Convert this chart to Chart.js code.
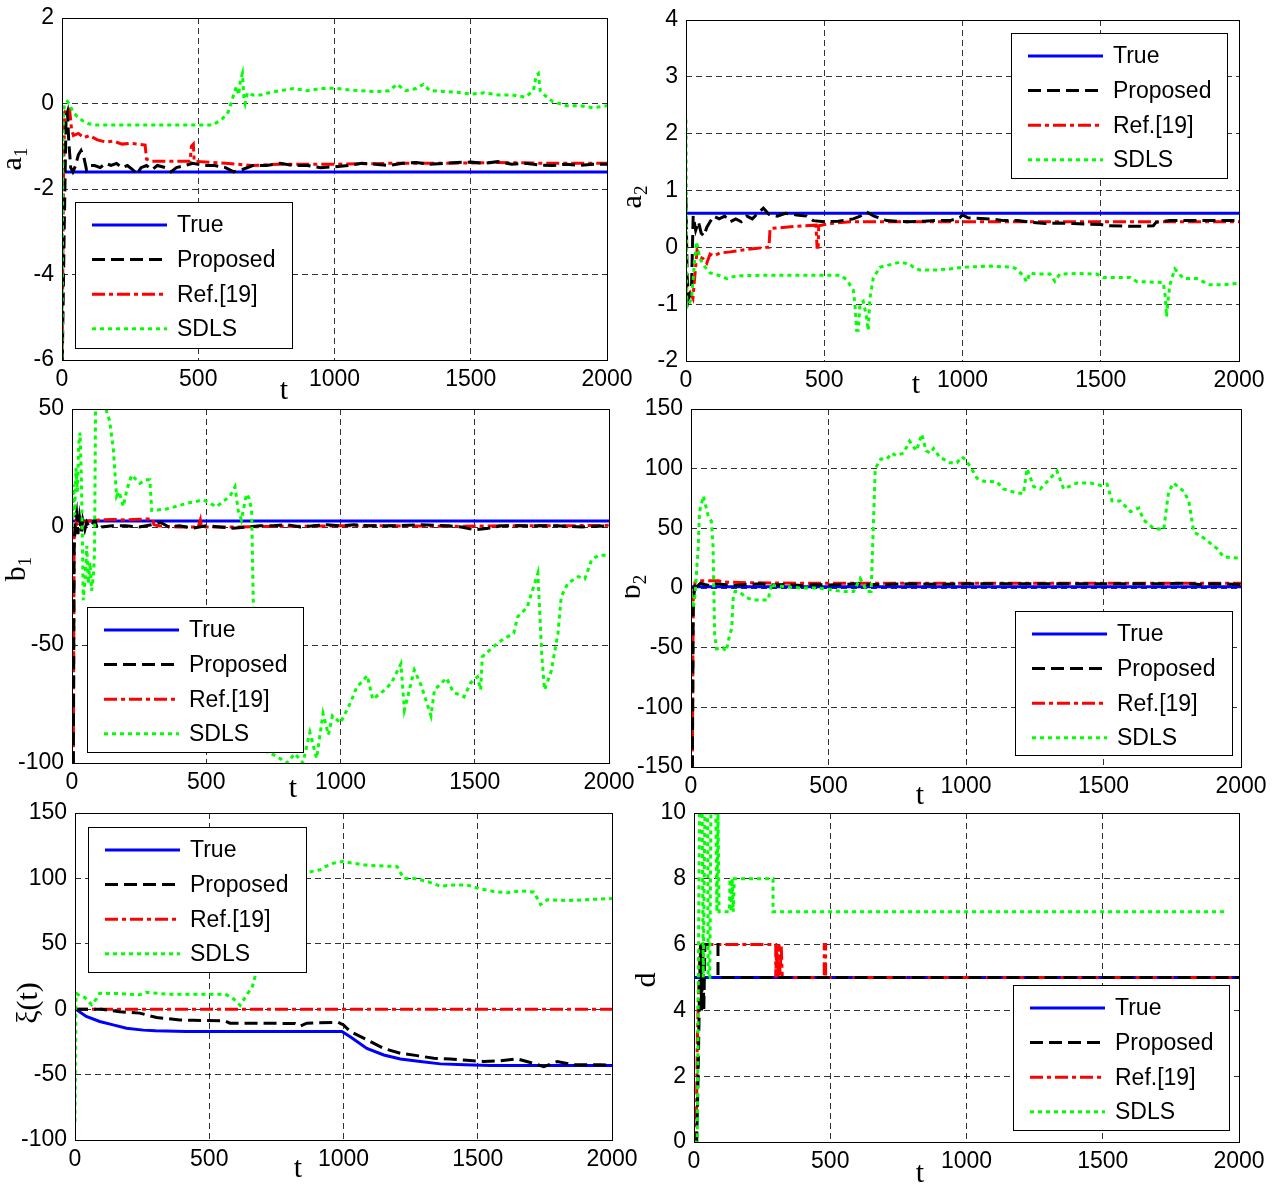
<!DOCTYPE html>
<html>
<head>
<meta charset="utf-8">
<script src="https://cdn.jsdelivr.net/npm/chart.js@4.4.1/dist/chart.umd.min.js"></script>
<style>
  html, body { margin: 0; padding: 0; background: #fff; }
  #wrap { position: relative; width: 1283px; height: 1187px; overflow: hidden; background: #fff; }
  .cv { position: absolute; }
</style>
</head>
<body>
<div id="wrap"></div>
<script>
// ---------- series names (legend order) ----------
const seriesNames = ['True', 'Proposed', 'Ref.[19]', 'SDLS'];

// ---------- a1 ----------
const a1True = [[0,-1.6],[2000,-1.6]];
const a1Proposed = [[0,-6.5],[8,-3],[15,-0.3],[20,-0.2],[25,-0.9],[32,-1.5],[40,-1.6],[50,-1.45],[60,-1.2],[70,-1.1],[80,-1.25],[90,-1.55],[100,-1.45],[120,-1.45],[140,-1.5],[160,-1.4],[180,-1.45],[200,-1.4],[220,-1.5],[240,-1.45],[260,-1.55],[275,-1.65],[290,-1.5],[310,-1.45],[330,-1.55],[350,-1.45],[380,-1.5],[400,-1.6],[420,-1.5],[450,-1.45],[480,-1.4],[520,-1.45],[560,-1.45],[600,-1.5],[630,-1.6],[660,-1.55],[700,-1.45],[750,-1.45],[800,-1.4],[850,-1.45],[900,-1.45],[950,-1.5],[1000,-1.48],[1050,-1.45],[1100,-1.4],[1150,-1.42],[1200,-1.45],[1250,-1.4],[1300,-1.38],[1350,-1.42],[1400,-1.4],[1450,-1.38],[1500,-1.37],[1550,-1.4],[1600,-1.36],[1650,-1.42],[1700,-1.4],[1750,-1.44],[1800,-1.45],[1850,-1.42],[1900,-1.45],[1950,-1.42],[2000,-1.42]];
const a1Ref19 = [[0,-6.5],[5,-2],[10,-0.2],[20,-0.1],[28,-0.15],[35,-0.6],[42,-0.75],[60,-0.7],[80,-0.8],[100,-0.75],[130,-0.85],[160,-0.9],[190,-0.88],[220,-0.95],[250,-0.93],[280,-0.95],[305,-0.97],[310,-1.3],[330,-1.35],[400,-1.35],[470,-1.35],[475,-1.0],[482,-0.95],[485,-1.35],[550,-1.38],[600,-1.4],[700,-1.45],[800,-1.42],[1000,-1.42],[1200,-1.4],[1400,-1.4],[1600,-1.38],[1800,-1.4],[2000,-1.4]];
const a1Sdls = [[0,-6.5],[3,-1],[6,-0.2],[10,0.0],[20,0.05],[30,-0.05],[40,-0.2],[55,-0.3],[75,-0.4],[95,-0.47],[120,-0.5],[200,-0.5],[300,-0.5],[400,-0.5],[500,-0.5],[555,-0.5],[590,-0.35],[610,-0.2],[625,0.1],[640,0.4],[648,0.2],[655,0.55],[662,0.7],[668,0.1],[672,0.0],[680,0.25],[700,0.2],[730,0.2],[760,0.25],[800,0.3],[850,0.35],[900,0.3],[950,0.35],[1000,0.36],[1050,0.32],[1100,0.3],[1150,0.28],[1200,0.3],[1230,0.45],[1260,0.3],[1300,0.35],[1326,0.45],[1350,0.3],[1400,0.28],[1450,0.26],[1500,0.22],[1550,0.25],[1600,0.2],[1650,0.2],[1700,0.15],[1730,0.3],[1740,0.65],[1748,0.7],[1755,0.3],[1770,0.2],[1800,0.05],[1850,-0.05],[1900,-0.05],[1950,-0.1],[2000,-0.05]];

// ---------- a2 ----------
const a2True = [[0,0.6],[2000,0.6]];
const a2Proposed = [[0,0.88],[4,-0.5],[10,-0.9],[20,-0.7],[26,0.55],[35,0.3],[45,0.45],[55,0.25],[65,0.2],[75,0.35],[87,0.45],[100,0.55],[120,0.5],[140,0.55],[160,0.45],[180,0.5],[200,0.45],[220,0.55],[240,0.5],[260,0.6],[280,0.69],[300,0.58],[330,0.55],[360,0.6],[400,0.57],[435,0.55],[460,0.47],[500,0.45],[550,0.46],[605,0.5],[630,0.55],[653,0.62],[680,0.55],[726,0.47],[800,0.45],[860,0.46],[900,0.47],[955,0.47],[990,0.52],[1000,0.57],[1020,0.52],[1100,0.5],[1150,0.47],[1200,0.47],[1250,0.44],[1300,0.42],[1350,0.43],[1400,0.42],[1450,0.41],[1500,0.4],[1530,0.38],[1600,0.37],[1650,0.37],[1690,0.38],[1700,0.44],[1750,0.47],[1800,0.47],[1900,0.47],[2000,0.47]];
const a2Ref19 = [[0,-0.5],[5,-0.9],[15,-0.8],[25,-0.9],[32,-0.5],[40,-0.05],[50,-0.17],[62,-0.2],[75,-0.28],[87,-0.12],[100,-0.15],[123,-0.1],[160,-0.08],[200,-0.05],[250,-0.02],[292,0.0],[300,0.0],[304,0.33],[350,0.35],[400,0.37],[470,0.39],[474,0.0],[478,0.0],[480,0.38],[520,0.42],[600,0.45],[700,0.45],[800,0.45],[1000,0.45],[1200,0.45],[1400,0.45],[1600,0.45],[1800,0.45],[2000,0.45]];
const a2Sdls = [[0,2.25],[3,-1.05],[10,-1.0],[20,-0.9],[30,-0.3],[38,0.1],[50,-0.2],[68,-0.34],[87,-0.45],[123,-0.5],[147,-0.55],[183,-0.5],[300,-0.49],[450,-0.49],[557,-0.49],[581,-0.57],[605,-0.75],[611,-1.0],[617,-1.46],[623,-1.46],[629,-1.0],[641,-0.95],[652,-1.2],[659,-1.46],[665,-0.9],[677,-0.55],[701,-0.35],[726,-0.32],[774,-0.26],[810,-0.3],[822,-0.35],[846,-0.4],[900,-0.4],[955,-0.38],[1000,-0.35],[1100,-0.33],[1180,-0.35],[1195,-0.38],[1220,-0.5],[1232,-0.61],[1244,-0.45],[1268,-0.47],[1316,-0.47],[1334,-0.6],[1352,-0.47],[1420,-0.46],[1485,-0.47],[1509,-0.53],[1606,-0.53],[1630,-0.6],[1726,-0.62],[1733,-0.85],[1738,-1.22],[1744,-0.9],[1750,-0.66],[1768,-0.38],[1799,-0.55],[1847,-0.55],[1895,-0.66],[1943,-0.66],[2000,-0.63]];

// ---------- b1 ----------
const b1True = [[0,2.5],[2000,2.5]];
const b1Proposed = [[0,-100],[5,-100],[8,-10],[12,3],[17,6],[22,-3],[28,4],[35,-2],[40,3],[48,-1],[55,2],[65,0],[75,1],[85,3],[95,-1],[110,0],[150,0.5],[200,0.5],[250,0],[300,1],[330,2],[360,0],[400,0.5],[450,-0.5],[500,0.5],[550,0],[600,-0.5],[650,0],[700,0.5],[750,0.5],[800,1],[850,0],[900,0.5],[950,1],[1000,0.5],[1050,1],[1100,0.5],[1200,0.5],[1300,1],[1400,0.5],[1450,0],[1500,-1.2],[1550,-0.5],[1600,0.5],[1700,0.5],[1800,0.5],[1900,0],[2000,0.5]];
const b1Ref19 = [[0,-100],[5,-100],[8,-5],[15,2],[25,0],[40,2],[60,2.5],[100,3],[150,3.2],[200,3],[250,3.3],[300,3.4],[305,1],[320,0.5],[400,0],[470,0],[478,3],[482,0],[600,0],[800,0.3],[1000,0.5],[1200,0.5],[1400,0.3],[1600,0.5],[1800,0.5],[2000,0.7]];
const b1Sdls = [[0,0],[3,10],[5,18],[10,5],[15,25],[20,15],[25,35],[30,40],[35,20],[38,0],[42,-31],[50,-20],[55,-8],[61,-24],[67,-15],[73,-27],[80,-20],[84,-10],[88,55],[100,60],[115,58],[125,52],[129,49],[140,45],[154,33],[166,13],[175,15],[191,8.7],[204,15.7],[222,22],[253,18.5],[275,20],[290,20],[297,7],[352,7.6],[427,10],[489,11.5],[538,8.6],[588,13],[607,17],[619,7],[631,3],[650,14],[660,12],[669,7],[675,-31],[690,-60],[705,-85],[720,-95],[760,-97],[800,-100],[830,-96],[860,-100],[886,-87],[911,-98],[935,-79],[955,-88],[970,-80],[1000,-83],[1035,-75],[1060,-68],[1100,-63],[1120,-73],[1165,-69],[1190,-66],[1225,-58],[1238,-77.5],[1275,-60.6],[1300,-67],[1337,-80],[1350,-69],[1395,-64],[1420,-70],[1460,-72],[1485,-66],[1510,-63.5],[1522,-69],[1528,-55],[1570,-50.7],[1600,-48],[1645,-45],[1660,-38],[1695,-34],[1735,-19.6],[1750,-55],[1760,-69],[1785,-61],[1810,-45],[1822,-29.5],[1847,-23.8],[1885,-21],[1910,-22],[1935,-14],[1960,-12],[2000,-12]];

// ---------- b2 ----------
const b2True = [[0,1],[2000,1]];
const b2Proposed = [[0,-150],[5,-150],[8,-20],[12,0],[18,5],[25,2],[35,4],[50,3],[70,2],[90,3.5],[120,3],[150,2],[200,3],[250,3.5],[300,2.5],[350,3],[400,2],[450,3],[500,2.5],[550,3],[600,3.5],[650,3],[700,3],[800,3.5],[900,3],[1000,3.5],[1100,3.5],[1200,3.5],[1300,3.5],[1400,3.5],[1500,3.5],[1600,3.5],[1700,3.5],[1800,4],[1850,3],[1900,3.5],[2000,3]];
const b2Ref19 = [[0,-150],[5,-150],[8,-10],[15,5],[20,6],[60,6],[100,6],[120,5],[200,4.5],[400,4],[800,4],[1200,4],[1600,4],[2000,4]];
const b2Sdls = [[0,-5],[8,-17],[15,-5],[22,20],[26,33],[31,64],[45,77],[50,72],[62,61],[74,56],[80,36],[86,-39],[93,-51],[116,-50],[128,-53],[140,-40],[148,-34],[154,-6],[160,-3],[175,-3],[185,-5],[200,-8],[227,-10],[280,-10],[294,4],[300,2],[348,1],[400,0],[457,0],[500,-1],[550,-3],[591,-3],[615,8],[640,-3],[655,-3],[670,100],[690,108],[712,108],[730,113],[745,111],[773,113],[795,123],[820,115],[839,129],[855,115],[870,113],[882,117],[906,109],[918,108],[942,105],[967,105],[985,110],[1000,107],[1015,102],[1040,92],[1064,89.5],[1112,89],[1136,83],[1180,80],[1209,79],[1222,100],[1246,85],[1270,83],[1331,98],[1355,83],[1404,88],[1452,88],[1490,86],[1513,87],[1531,73],[1561,73],[1598,64],[1628,67],[1646,57],[1682,50],[1719,49],[1737,81],[1755,88],[1792,81],[1810,73],[1828,47],[1864,42],[1913,33],[1937,26],[2000,25]];

// ---------- xi(t) ----------
const xiTrue = [[0,0],[10,-1],[42,-5.6],[92,-9.4],[142,-12],[192,-14.5],[254,-16],[300,-16.5],[415,-17],[600,-17],[800,-17],[994,-17],[1025,-21],[1087,-30],[1150,-35],[1212,-38],[1286,-40],[1361,-41.8],[1450,-42.5],[1547,-43],[1700,-43],[2000,-43]];
const xiProposed = [[0,0],[100,0],[167,-2],[241,-3],[304,-6.4],[390,-8.2],[440,-8.5],[560,-9],[577,-10.7],[700,-10.7],[820,-11],[838,-13],[863,-10.7],[980,-10],[1000,-12],[1025,-17],[1087,-23.4],[1150,-30],[1212,-33.7],[1274,-35.5],[1336,-37.5],[1398,-38],[1460,-39],[1522,-40],[1585,-39.5],[1647,-38],[1709,-41.5],[1746,-44],[1796,-40],[1858,-42.5],[1958,-42.5],[2000,-43]];
const xiRef19 = [[0,0],[2000,0]];
const xiSdls = [[0,-86],[3,5],[5,12],[20,10],[36,9],[62,3.4],[80,8],[92,12.2],[167,12],[240,11],[266,13],[340,11.5],[450,11.5],[560,11.5],[590,8],[615,3],[640,11],[660,17],[672,26],[690,40],[720,65],[760,85],[800,96],[838,104],[875,105],[913,106.6],[932,109],[963,111.7],[1000,113],[1025,112],[1087,110],[1150,109.5],[1200,109],[1224,100],[1262,100],[1312,97.7],[1361,94],[1411,95],[1460,95],[1510,92],[1560,90],[1610,89],[1660,90.5],[1709,89.5],[1734,80],[1759,83.7],[1833,83],[1933,84],[2000,84.6]];

// ---------- d ----------
const dTrue = [[0,5],[2000,5]];
const dProposed = [[0,0],[10,0],[15,2],[20,4.5],[24,6],[28,4],[32,6],[36,4],[40,6],[88,6],[88,5],[2000,5]];
const dRef19 = [[0,0],[8,0],[12,3],[18,5],[22,6],[300,6],[300,5],[304,6],[308,5],[312,6],[316,5],[320,6],[324,5],[478,5],[478,6],[483,6],[483,5],[2000,5]];
const dSdls = [[0,0],[12,0],[16,5],[20,10],[30,10],[34,5],[40,10],[50,10],[52,5],[58,5],[62,10],[80,10],[84,7],[88,10],[92,7],[130,7],[132,8],[136,7],[140,8],[144,7],[148,8],[290,8],[290,7],[1960,7]];

// ---------- line styles per series ----------
const lineStyles = {
  'True':     { color: '#0000ff', dash: [],            order: 3 },
  'Proposed': { color: '#000000', dash: [13, 6],       order: 1 },
  'Ref.[19]': { color: '#ff0000', dash: [13, 4, 4, 4], order: 2 },
  'SDLS':     { color: '#00ff00', dash: [4, 4],        order: 0 }
};

const TICK_FONT = { family: '"Liberation Sans", Arial, sans-serif', size: 23 };
const LABEL_FONT = '"Liberation Serif", "Times New Roman", serif';

// panel layout: canvas box [left, top, width, height], plot area [left, top, right, bottom] (page px)
const panels = [
  { box: [0, 0, 645, 405],     area: [62, 18, 607, 360],    y: [-6, 2, 2],
    series: [a1True, a1Proposed, a1Ref19, a1Sdls],
    legend: [75, 202, 217, 146],  ylab: { x: 21, y: 159, main: 'a', sub: '1' }, tlab: [284, 399] },
  { box: [625, 0, 655, 405],   area: [686, 20, 1239, 361],  y: [-2, 4, 1],
    series: [a2True, a2Proposed, a2Ref19, a2Sdls],
    legend: [1011, 33, 216, 145], ylab: { x: 641, y: 197, main: 'a', sub: '2' }, tlab: [916, 393] },
  { box: [0, 395, 645, 415],   area: [72, 409, 609, 763],   y: [-100, 50, 50],
    series: [b1True, b1Proposed, b1Ref19, b1Sdls],
    legend: [87, 607, 216, 145],  ylab: { x: 25, y: 569, main: 'b', sub: '1' }, tlab: [293, 797] },
  { box: [625, 395, 655, 415], area: [691, 409, 1241, 767], y: [-150, 150, 50],
    series: [b2True, b2Proposed, b2Ref19, b2Sdls],
    legend: [1015, 611, 217, 144], ylab: { x: 640, y: 587, main: 'b', sub: '2' }, tlab: [920, 804] },
  { box: [0, 798, 645, 389],   area: [75, 813, 612, 1140],  y: [-100, 150, 50],
    series: [xiTrue, xiProposed, xiRef19, xiSdls],
    legend: [88, 827, 218, 145],  ylab: { x: 37, y: 1003, main: 'ξ(t)', sub: '' }, tlab: [298, 1177] },
  { box: [625, 798, 655, 389], area: [694, 813, 1239, 1142], y: [0, 10, 2],
    series: [dTrue, dProposed, dRef19, dSdls],
    legend: [1013, 985, 216, 145], ylab: { x: 655, y: 980, main: 'd', sub: '' }, tlab: [920, 1182] }
];

// frame, legend box and axis labels drawn on top of the plotted lines
const overlayPlugin = {
  id: 'overlay',
  afterDatasetsDraw(chart, args, opts) {
    const ctx = chart.ctx;
    const a = chart.chartArea;
    const ox = opts.ox, oy = opts.oy;
    ctx.save();
    // axes box
    ctx.strokeStyle = '#000';
    ctx.lineWidth = 1;
    ctx.setLineDash([]);
    ctx.strokeRect(Math.round(a.left) + 0.5, Math.round(a.top) + 0.5,
                   Math.round(a.right - a.left), Math.round(a.bottom - a.top));

    // legend
    const [lx, ly, lw, lh] = opts.legend;
    const bx = lx - ox, by = ly - oy;
    ctx.fillStyle = '#fff';
    ctx.fillRect(bx, by, lw, lh);
    ctx.strokeStyle = '#000';
    ctx.lineWidth = 1;
    ctx.strokeRect(bx + 0.5, by + 0.5, lw, lh);
    ctx.font = `${TICK_FONT.size}px ${TICK_FONT.family}`;
    ctx.textBaseline = 'middle';
    ctx.textAlign = 'left';
    const ds = chart.data.datasets;
    seriesNames.forEach((name, i) => {
      const d = ds.find(s => s.label === name);
      const yy = by + 23 + i * 34.6;
      ctx.beginPath();
      ctx.strokeStyle = d.borderColor;
      ctx.lineWidth = d.borderWidth;
      ctx.setLineDash(d.borderDash);
      ctx.moveTo(bx + 17, yy);
      ctx.lineTo(bx + 92, yy);
      ctx.stroke();
      ctx.setLineDash([]);
      ctx.fillStyle = '#000';
      ctx.fillText(name, bx + 102, yy + 1);
    });

    // x-axis label
    ctx.fillStyle = '#000';
    ctx.font = `30px ${LABEL_FONT}`;
    ctx.textAlign = 'center';
    ctx.textBaseline = 'alphabetic';
    ctx.fillText('t', opts.tlab[0] - ox, opts.tlab[1] - oy);

    // y-axis label (rotated, with optional subscript)
    const yl = opts.ylab;
    ctx.translate(yl.x - ox, yl.y - oy);
    ctx.rotate(-Math.PI / 2);
    ctx.font = `30px ${LABEL_FONT}`;
    const wMain = ctx.measureText(yl.main).width;
    ctx.font = `19px ${LABEL_FONT}`;
    const wSub = yl.sub ? ctx.measureText(yl.sub).width : 0;
    const start = -(wMain + wSub) / 2;
    ctx.textAlign = 'left';
    ctx.font = `30px ${LABEL_FONT}`;
    ctx.fillText(yl.main, start, 0);
    if (yl.sub) {
      ctx.font = `19px ${LABEL_FONT}`;
      ctx.fillText(yl.sub, start + wMain, 6);
    }
    ctx.restore();
  }
};

const wrap = document.getElementById('wrap');

panels.forEach((p) => {
  const [cx, cy, cw, ch] = p.box;
  const [L, T, R, B] = p.area;
  const canvas = document.createElement('canvas');
  canvas.className = 'cv';
  canvas.width = cw;
  canvas.height = ch;
  canvas.style.left = cx + 'px';
  canvas.style.top = cy + 'px';
  canvas.style.width = cw + 'px';
  canvas.style.height = ch + 'px';
  wrap.appendChild(canvas);

  const datasets = seriesNames.map((name, i) => {
    const st = lineStyles[name];
    return {
      label: name,
      data: p.series[i].map(([t, v]) => ({ x: t, y: v })),
      borderColor: st.color,
      backgroundColor: st.color,
      borderWidth: 3,
      borderDash: st.dash,
      borderCapStyle: 'butt',
      pointRadius: 0,
      tension: 0,
      fill: false,
      clip: 0,
      order: st.order
    };
  });

  const gridOpts = { color: 'rgba(0,0,0,0.8)', lineWidth: 1, drawTicks: false };

  new Chart(canvas, {
    type: 'line',
    data: { datasets },
    plugins: [overlayPlugin],
    options: {
      responsive: false,
      animation: false,
      events: [],
      layout: { padding: { top: T - cy, right: (cx + cw) - R, left: 0, bottom: 0 } },
      plugins: {
        legend: { display: false },
        tooltip: { enabled: false },
        overlay: { ox: cx, oy: cy, legend: p.legend, ylab: p.ylab, tlab: p.tlab }
      },
      scales: {
        x: {
          type: 'linear', min: 0, max: 2000,
          afterFit: (s) => {
            s.height = (cy + ch) - B;
            s.paddingLeft = 0; s.paddingRight = 0;
          },
          ticks: { stepSize: 500, font: TICK_FONT, color: '#000', padding: 6,
                   maxRotation: 0, autoSkip: false, callback: (v) => String(v) },
          grid: gridOpts,
          border: { display: false, dash: [6, 4] }
        },
        y: {
          type: 'linear', min: p.y[0], max: p.y[1],
          afterFit: (s) => {
            s.width = L - cx;
            s.paddingTop = 0; s.paddingBottom = 0;
          },
          ticks: { stepSize: p.y[2], font: TICK_FONT, color: '#000', padding: 8,
                   autoSkip: false, callback: (v) => String(v) },
          grid: gridOpts,
          border: { display: false, dash: [6, 4] }
        }
      }
    }
  });
});
</script>
</body>
</html>
